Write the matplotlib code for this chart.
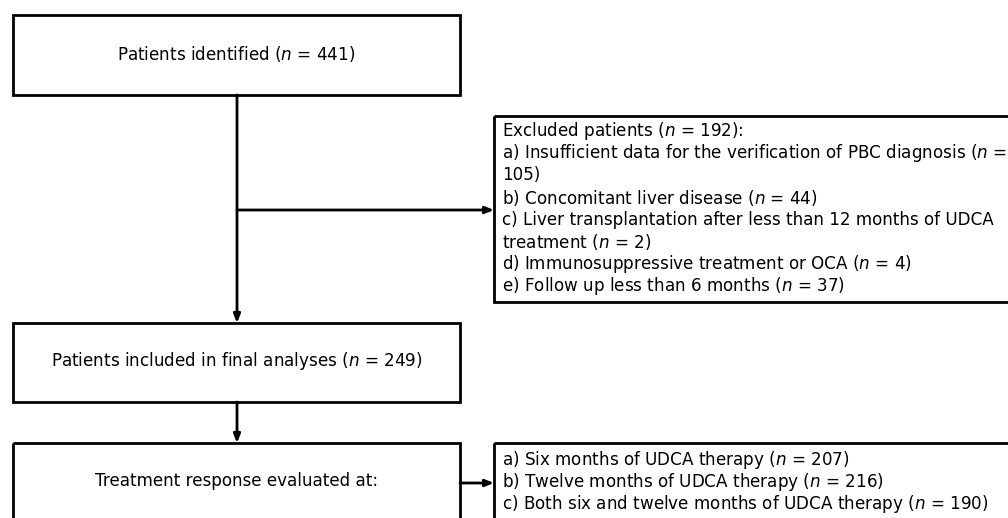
import matplotlib.pyplot as plt
from matplotlib.patches import Rectangle

plt.rcParams['font.family'] = ['DejaVu Sans']
plt.rcParams['mathtext.fontset'] = 'dejavusans'

# ---- text content ----
main_steps = [
    r'Patients identified ($n$ = 441)',
    r'Patients included in final analyses ($n$ = 249)',
    r'Treatment response evaluated at:',
]
excluded_lines = [
    r'Excluded patients ($n$ = 192):',
    r'a) Insufficient data for the verification of PBC diagnosis ($n$ =',
    r'105)',
    r'b) Concomitant liver disease ($n$ = 44)',
    r'c) Liver transplantation after less than 12 months of UDCA',
    r'treatment ($n$ = 2)',
    r'd) Immunosuppressive treatment or OCA ($n$ = 4)',
    r'e) Follow up less than 6 months ($n$ = 37)',
]
response_lines = [
    r'a) Six months of UDCA therapy ($n$ = 207)',
    r'b) Twelve months of UDCA therapy ($n$ = 216)',
    r'c) Both six and twelve months of UDCA therapy ($n$ = 190)',
]

W, H = 1008, 518
fig = plt.figure(figsize=(W / 100, H / 100), dpi=100)
ax = fig.add_axes([0, 0, 1, 1])
ax.set_xlim(0, W)
ax.set_ylim(H, 0)
ax.axis('off')

LW = 2.0
FS = 12.1
LINE_H = 22.2

# main boxes (x, y_top, height)
main_boxes = [(13, 15, 80), (13, 323, 79), (13, 443, 120)]
main_text_y = [54, 361, 481]
for (x, y, h), txt, ty in zip(main_boxes, main_steps, main_text_y):
    ax.add_patch(Rectangle((x, y), 447, h, fill=False, lw=LW, ec='black'))
    ax.text(x + 447 / 2, ty, txt, ha='center', va='center', fontsize=FS)

# side boxes
ax.add_patch(Rectangle((494, 116), 600, 186, fill=False, lw=LW, ec='black'))
for i, line in enumerate(excluded_lines):
    ax.text(502, 131 + i * LINE_H, line, ha='left', va='center', fontsize=FS)

ax.add_patch(Rectangle((494, 443), 600, 120, fill=False, lw=LW, ec='black'))
for i, line in enumerate(response_lines):
    ax.text(502, 460 + i * LINE_H, line, ha='left', va='center', fontsize=FS)

arrow = dict(arrowstyle='-|>,head_length=0.5,head_width=0.2', lw=LW, color='black',
             shrinkA=0, shrinkB=0)
# vertical flow
ax.annotate('', xy=(237, 323), xytext=(237, 95), arrowprops=arrow)
ax.annotate('', xy=(237, 443), xytext=(237, 402), arrowprops=arrow)
# branches
ax.annotate('', xy=(494, 210), xytext=(237, 210), arrowprops=arrow)
ax.annotate('', xy=(494, 483), xytext=(460, 483), arrowprops=arrow)

fig.savefig('out.png', dpi=100)
